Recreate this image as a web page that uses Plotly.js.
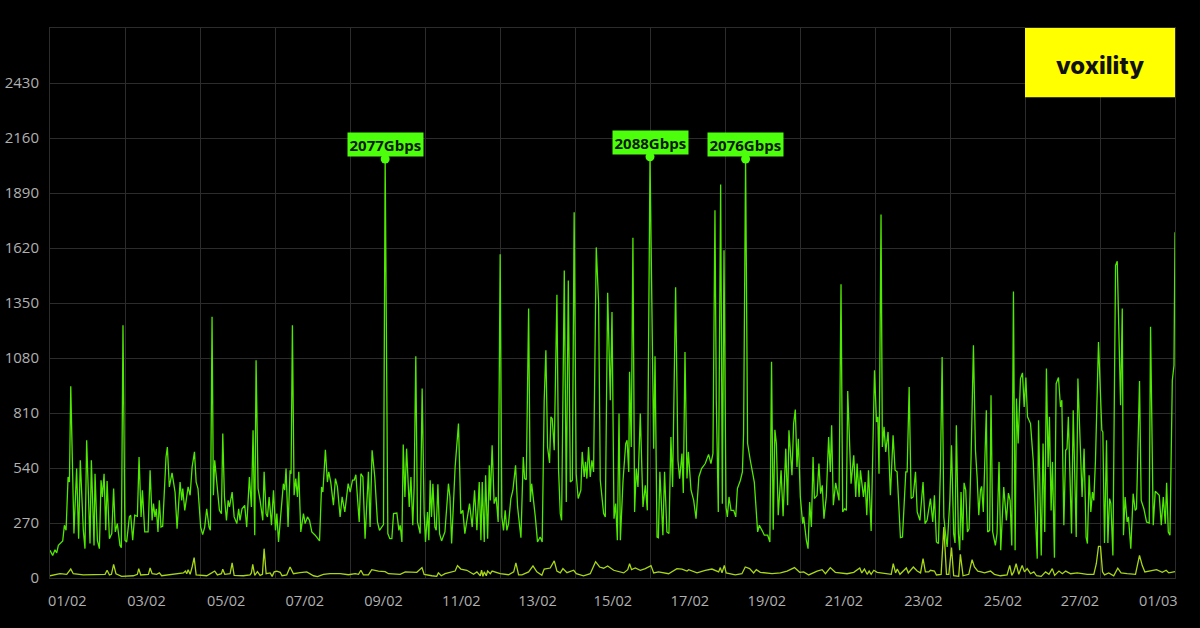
<!DOCTYPE html>
<html><head><meta charset="utf-8">
<script src="https://cdn.plot.ly/plotly-3.0.1.min.js"></script>
<style>html,body{margin:0;padding:0;background:#000}#c{width:1200px;height:628px}</style></head>
<body><div id="c"></div>
<script>
// x = hours since 01/02 00:00, y = Gbps
const peakHoursA = [0,1.6,3,4,5,7.6,8.6,9.6,10.8,11.6,12.4,13.3,14.3,15.9,17.1,18.1,19.9,20.9,21.9,23.9,
24.7,26.3,26.9,28.3,29.5,30.5,31.3,32.3,33.3,34.1,35.5,36.9,38,39,40.2,41.8,42.6,43.6,44.8,45.8,
47.4,48.2,49.4,50.6,52.2,53.2,54.4,55.2,56.6,58.6,59.8,61,61.8,62.7,63.5,64.5,65.3,66.3,67.3,69.3,
70.1,71.3,72.9,74.7,75.9,77.7,78.7,79.3,80.5,82.5,83.7,84.9,86.3,87.3,88.4,90,91.2,92.4,93.6,95,
95.8,96.8,97.6,98.4,100,101.2,102.4,103.2,104.2,105.4,106.4,107.2,108.8,110,111.6,112.7,113.5,114.7,116.3,117.5,
119.1,120.3,121.3,122.3,123.1,124.3,125.5,127.1,127.9,129.1,129.9,130.9,132.3,133.5,134.7,135.5,136.5,137.8,139.4,140.2,
141,142.2,143.4,144,144.8,145.8,146.8,147.8,148.6,149.8,151.4,152.4,153.8,155,156.4,158.4,161,162.2,163,164.5,
165.7,166.5,167.7,169.3,170.5,171.7,172.9];
const gbpsA = [136,111,139,123,160,182,259,234,496,471,941,512,218,537,193,578,234,144,676,169,
578,160,512,185,144,480,398,512,234,476,193,218,439,226,267,160,149,1241,185,177,
300,308,185,308,303,594,300,431,226,226,529,283,365,300,340,226,381,250,254,594,
643,447,516,422,242,471,381,439,332,447,406,545,619,471,439,250,213,250,340,250,
234,1282,406,578,431,332,316,709,398,283,381,349,422,300,267,340,283,340,357,250,
496,349,725,210,1069,439,381,283,521,316,300,398,259,431,234,316,177,300,463,431,
537,250,529,512,1241,406,488,398,521,226,316,267,300,283,226,210,182,447,422,630,
471,521,471,357,488,447,300];
const peakHoursB = [173.3,174.5,176.1,178.1,179.3,180.7,181.7,182.7,184.7,185.7,186.9,188.2,190.2,191.2,192.4,194,195.6,196.8,198,199.2,
200.2,201.8,203,204.2,205.2,207.2,208.4,209.2,210.2,211,212,213,214.6,215.6,216.7,217.5,218.5,219.5,221.1,222.3,
223.5,224.3,225.5,226.3,227.1,227.9,228.7,229.9,230.7,231.7,232.7,233.9,235.9,238,238.9,239.9,242,244,245.4,246.6,
247.8,249,250.6,252.2,253.6,255,256.4,257.4,258.2,259.4,260.2,261.4,262.4,263,264.1,265.3,266.5,267.7,268.9,269.9,
270.9,271.9,272.9,273.9,275.3,276.5,278.1,279.3,281.3,282.7,283.5,284.5,285.9,286.9,287.7,289.9,291.2,292.8,294,295.2,
296.2,297.2,298.4,299.2,300,301.2,302.8,303.8,304.8,305.6,307.2,308.4,309.6,310.8,312,313.1,314.3,315.5,317.1,317.9,
319.1,319.9,320.7,321.7,322.7,323.7,324.7,326.3,327.7,328.7,330.7,331.7,333.1,334.7,335.7,336.9,337.9,338.9,339.9,340.7,
342.3,343.9,344.7,345.7,346.2,347.2,348.2,349.2,350.2,351.2,352.6];
const gbpsB = [300,398,324,463,422,480,480,507,275,512,496,193,521,250,627,496,275,234,250,262,
2057,218,193,193,316,319,234,259,177,655,398,635,349,496,259,447,1089,275,218,930,
316,177,324,185,480,300,463,250,234,460,218,182,226,463,398,169,545,758,316,332,
218,291,365,250,431,234,471,185,471,177,504,193,553,381,652,365,398,275,1589,300,
234,332,234,267,390,431,553,349,198,594,488,483,1323,373,463,300,177,201,177,873,
1118,643,565,791,782,627,1390,529,316,283,1510,373,1460,471,480,1795,512,390,431,619,
496,570,488,643,496,578,521,1623,1350,480,316,300,1400,873,1306,291,365,185,807,185,
480,660,676,521,1012,643,1670,324,537,447,807];
const peakHoursC = [354.2,355.6,356.8,358.4,360.6,361.4,362.6,363.4,364.3,366.1,367.1,368.5,369.7,370.9,371.9,373.7,375.1,376.1,377.5,378.3,
379.3,380.5,381.3,382.9,384.5,385.9,387.6,389.2,391.4,393.4,394.8,396,397.2,398,399.2,400.6,401.6,402.6,403.8,404.6,
405.6,406.8,408.4,409.6,410.6,412.4,413.6,414.3,415.5,416.7,418.3,419.1,420.7,422.7,423.7,425.3,426.7,428.7,430,431,
432,433,433.9,435,436.7,437.9,439.5,440.6,441.4,443.2,444.2,445.2,446.2,447,448.2,449.6,450.2,451.8,452.8,453.8,
454.8,455.8,456.6,458.2,459.3,460.3,461.3,462.3,463.7,465.1,466.1,466.9,467.9,469.3,471.3,472.5,473.5,474.7,475.7,476.5,
478.5,480.1,481.3,482.1,483.3,484.1,485.9,486.9,487.9,488.9,490.5,492.5,493.7,494.5,495.2,496.4,497.2,498.2,499.2,500.6,
502,503.6,504.8,506,508,509.2,511.2,512,513.2,514.4,515.6,517,518,519.6];
const gbpsC = [349,455,332,2068,635,1089,201,198,521,210,521,226,218,692,447,1427,578,488,611,417,
1110,488,619,431,381,291,496,537,562,607,562,611,1805,873,324,1932,365,1609,349,300,
398,332,332,300,439,480,521,709,2057,660,578,545,471,226,259,234,210,210,177,1061,
237,728,660,308,529,303,635,357,725,504,758,827,545,684,398,267,300,185,144,373,
250,594,390,406,562,414,455,291,398,692,521,750,357,467,381,1442,324,340,332,918,
463,602,398,562,398,529,398,471,308,529,231,1020,766,791,512,1785,643,742,619,717,
406,701,529,521,198,201,521,521,938,390,398,521,324,283];
const peakHoursD = [521.5,522.7,523.9,525.9,527.3,528.3,529.5,530.7,531.9,532.9,533.9,534.9,535.9,537.5,538.5,539.8,540.6,541.4,542.6,543.4,
544.2,545.2,546,547,548,549,550.2,551.6,552.8,553.8,554.8,555.8,556.5,557.5,559.3,560.1,561.3,562.1,563.1,564.7,
565.7,566.9,567.9,569.7,571.3,572.5,573.5,574.5,575.5,576.5,577.3,578.3,579.7,580.9,581.9,582.9,583.9,585.7,587.3,589.7,
590.5,592.1,593.2,594.2,595.2,596.2,597,598,598.8,600,601,602.4,603.6,604.4,605.6,606.7,607.5,608.3,610.2,611.2,
613,614,615.2,616.5,617.7,618.9,619.7,620.7,621.7,622.7,623.5,624.5,626.3,628.3,628.9,629.9,631.1,631.9,632.9,633.7,
634.9,636.5,637.5,638.5,639.5,640.5,641.2,642.2,643.4,644.2,645.6,647,648.2,649,650.8,651.8,653.4,655,656.6,657.4,
659,660.2,662.6,663.8,665,666.2,667,668,669,670.4,671.4,672];
const gbpsD = [471,267,283,390,275,406,177,169,545,1085,300,218,152,381,652,218,172,750,218,136,
422,185,467,431,226,242,594,1143,627,496,308,431,450,324,823,226,234,897,226,160,
218,570,136,447,283,417,381,160,1407,136,881,660,979,1007,840,984,791,758,578,95,
774,111,660,226,1028,545,791,332,570,100,954,984,840,873,259,627,635,791,218,823,
201,979,660,398,635,201,169,504,324,422,381,578,1159,725,717,172,676,172,390,365,
111,1535,1555,1250,848,1323,210,398,275,300,144,414,332,340,967,381,340,275,270,1233,
259,426,406,259,398,267,467,226,210,971,1044,1697];

const baseHours = [0,6,10,12.4,13.9,19.9,32.9,34.1,35.5,36.7,38,39.4,42.8,49.8,52.2,53,54.2,58.8,59.8,61,
63.7,65.3,66.7,73.7,79.7,80.9,81.7,82.5,83.7,84.9,86.1,87.3,93.6,96.6,98.4,100,102.4,103.2,104.4,107.6,
108.8,110,115.5,119.5,120.3,121.1,122.3,123.9,125.5,126.9,127.9,129.1,131.5,132.7,133.9,135.5,137.5,138.6,141.4,143.4,
145.4,149.4,153.4,157.4,159.8,163.3,167.3,173.3,178.3,182.3,184.3,185.7,187.2,190.2,192.2,196.2,200.2,202.2,209.2,212.2,
219.1,222.2,223.5,228.1,231,232,233.7,236,240,242,243.4,245.4,249,253,255,257,257.8,258.6,259.4,260.6,
261.4,263,264.1,268.9,273.9,277,278.3,279.9,281.9,285.9,288.5,290.8,293.8,295.2,298.8,301.2,302.8,304.8,306.4,308.8,
312.8,314.4,318.7,322.7,325.9,328.3,330.7,333.1,336.7,342.7,345.1,346.2,347.4,349.6,352.6,355.6,359,360.6,363.5,366.5,
369.5,374.5,377.5,380.5,381.5,386.5,391.4,395.4,399.4,400.4,401.4,402.8,403.9,409.3,413.3,415.3,417.9,420.3,421.9,424.3,
431.3,436.3,440.3,444.7,447.8,450.2,453.2,458.2,461.2,463.2,466.1,469.1,476.1,480.1,483.7,484.9,486.5,488.1,489.3,490.5,
492.1,494.1,502.5,503.7,505.1,506.1,507.7,511.5,512.7,515.7,518,520,521.5,522.9,524.9,525.9,528.3,529.5,532.3,533.9,
535.5,536.9,538.5,539.8,542.8,543.8,545.4,548.8,550.8,552.2,554.2,556.2,558.2,561.8,564.1,567.7,571.7,573.3,574.5,575.7,
577.1,578.7,580.7,582.1,583.7,585.7,587.7,589.3,592.1,594.7,596.7,598.7,600.1,602.7,604.7,606.7,609.7,613.6,619.6,623.5,
625,626.3,627.5,628.7,629.9,632.4,635.4,637.8,639.8,643.4,648.4,650.8,652.4,654,657.4,661,664.4,666.7,668.3,672];
const baseGbps = [11,21,18,44,21,15,18,38,15,18,67,21,8,11,18,46,15,18,49,21,
18,25,11,18,25,34,21,41,18,54,100,15,11,25,34,15,21,43,18,21,
74,13,11,15,25,67,13,31,13,18,144,21,25,8,30,34,28,11,15,54,
21,26,30,11,7,18,21,21,16,21,18,38,16,15,41,34,31,21,18,30,
28,51,18,11,8,25,11,21,28,34,61,44,38,18,30,11,38,8,30,11,
34,21,34,21,16,30,74,15,15,30,59,30,13,44,49,84,34,25,46,26,
38,21,11,21,80,54,48,59,38,25,41,70,41,49,38,46,61,25,30,25,
21,46,44,34,41,25,38,44,30,51,25,62,25,15,21,54,46,25,41,28,
21,25,34,51,28,30,15,34,41,21,51,28,21,28,49,25,44,18,34,18,
38,28,18,70,25,44,18,49,25,54,34,25,95,30,30,38,34,15,18,250,
18,18,149,11,8,116,11,18,90,54,34,30,25,34,18,11,15,62,13,30,
70,18,62,30,46,21,30,11,8,30,18,46,13,34,21,34,21,25,18,18,
70,155,155,30,15,25,11,48,25,21,18,111,62,30,34,41,28,38,25,31];

const peakHours = [200.2,358.4,415.5];
const peakValues = [2057,2068,2057];
const peakLabels = ['2077Gbps','2088Gbps','2076Gbps'];
const yTicks = [0,270,540,810,1080,1350,1620,1890,2160,2430,2700];
const yTickText = ['0','270','540','810','1080','1350','1620','1890','2160','2430',''];
const gridHours = [0,44.8,89.6,134.4,179.2,224,268.8,313.6,358.4,403.2,448,492.8,537.6,582.4,627.2,672];
const dateLabels = ['01/02','03/02','05/02','07/02','09/02','11/02','13/02','15/02','17/02','19/02','21/02','23/02','25/02','27/02','01/03'];
const dateLabelHours = [10.3,57.6,105.2,152.2,199.2,245.7,291.2,336.2,382.2,428.2,474.2,521.7,569.2,615.2,662];

const GREEN = '#4fe800', LIME = '#a8d814', LABEL = '#4cff0a', GRID = '#2c2c2c', TEXT = '#b0b0b0';
const font = '"Open Sans", sans-serif';
const traces = [
 {x:[...peakHoursA,...peakHoursB,...peakHoursC,...peakHoursD], y:[...gbpsA,...gbpsB,...gbpsC,...gbpsD],
  mode:'lines', line:{color:GREEN,width:1.3}, hoverinfo:'skip'},
 {x:baseHours, y:baseGbps, xaxis:'x2', mode:'lines', line:{color:LIME,width:1.3}, hoverinfo:'skip'},
 {x:peakHours, y:peakValues, mode:'markers', marker:{color:LABEL,size:9}, hoverinfo:'skip'}
];
const layout = {
 width:1200, height:628, showlegend:false, paper_bgcolor:'#000', plot_bgcolor:'#000',
 margin:{l:50,r:25,t:27.7,b:50.3,pad:0},
 font:{family:font,color:TEXT,size:14},
 xaxis:{range:[0,672],tickmode:'array',tickvals:gridHours,ticktext:gridHours.map(()=>''),
        showgrid:true,gridcolor:GRID,gridwidth:1,zeroline:false,showline:true,linecolor:GRID,linewidth:1,mirror:true,ticks:''},
 xaxis2:{range:[0,672],overlaying:'x',anchor:'y',side:'bottom',tickmode:'array',tickvals:dateLabelHours,ticktext:dateLabels,
        showgrid:false,zeroline:false,showline:false,ticks:'',tickfont:{family:font,color:TEXT,size:14.5},ticklabelstandoff:12},
 yaxis:{range:[0,2700],tickmode:'array',tickvals:yTicks,ticktext:yTickText,showgrid:true,gridcolor:GRID,gridwidth:1,
        zeroline:false,showline:true,linecolor:GRID,linewidth:1,mirror:true,ticks:'',tickfont:{family:font,color:TEXT,size:15},ticklabelstandoff:7},
 shapes:[{type:'rect',xref:'x',yref:'y',x0:582.4,x1:672,y0:2360,y1:2700,fillcolor:'#ffff00',line:{width:0},layer:'above'}],
 annotations:[
  ...peakHours.map((h,i)=>({x:h,y:peakValues[i],xref:'x',yref:'y',text:'<b>'+peakLabels[i]+'</b>',showarrow:false,
     yanchor:'bottom',yshift:2,bgcolor:LABEL,borderpad:1.5,font:{family:font,size:15,color:'#0a1a00'}})),
  {x:627.2,y:2515,xref:'x',yref:'y',text:'voxility',showarrow:false,font:{family:'Inter, sans-serif',size:24,weight:800,color:'#111'}}
 ]
};
Plotly.newPlot('c',traces,layout,{displayModeBar:false,staticPlot:true});
</script></body></html>
